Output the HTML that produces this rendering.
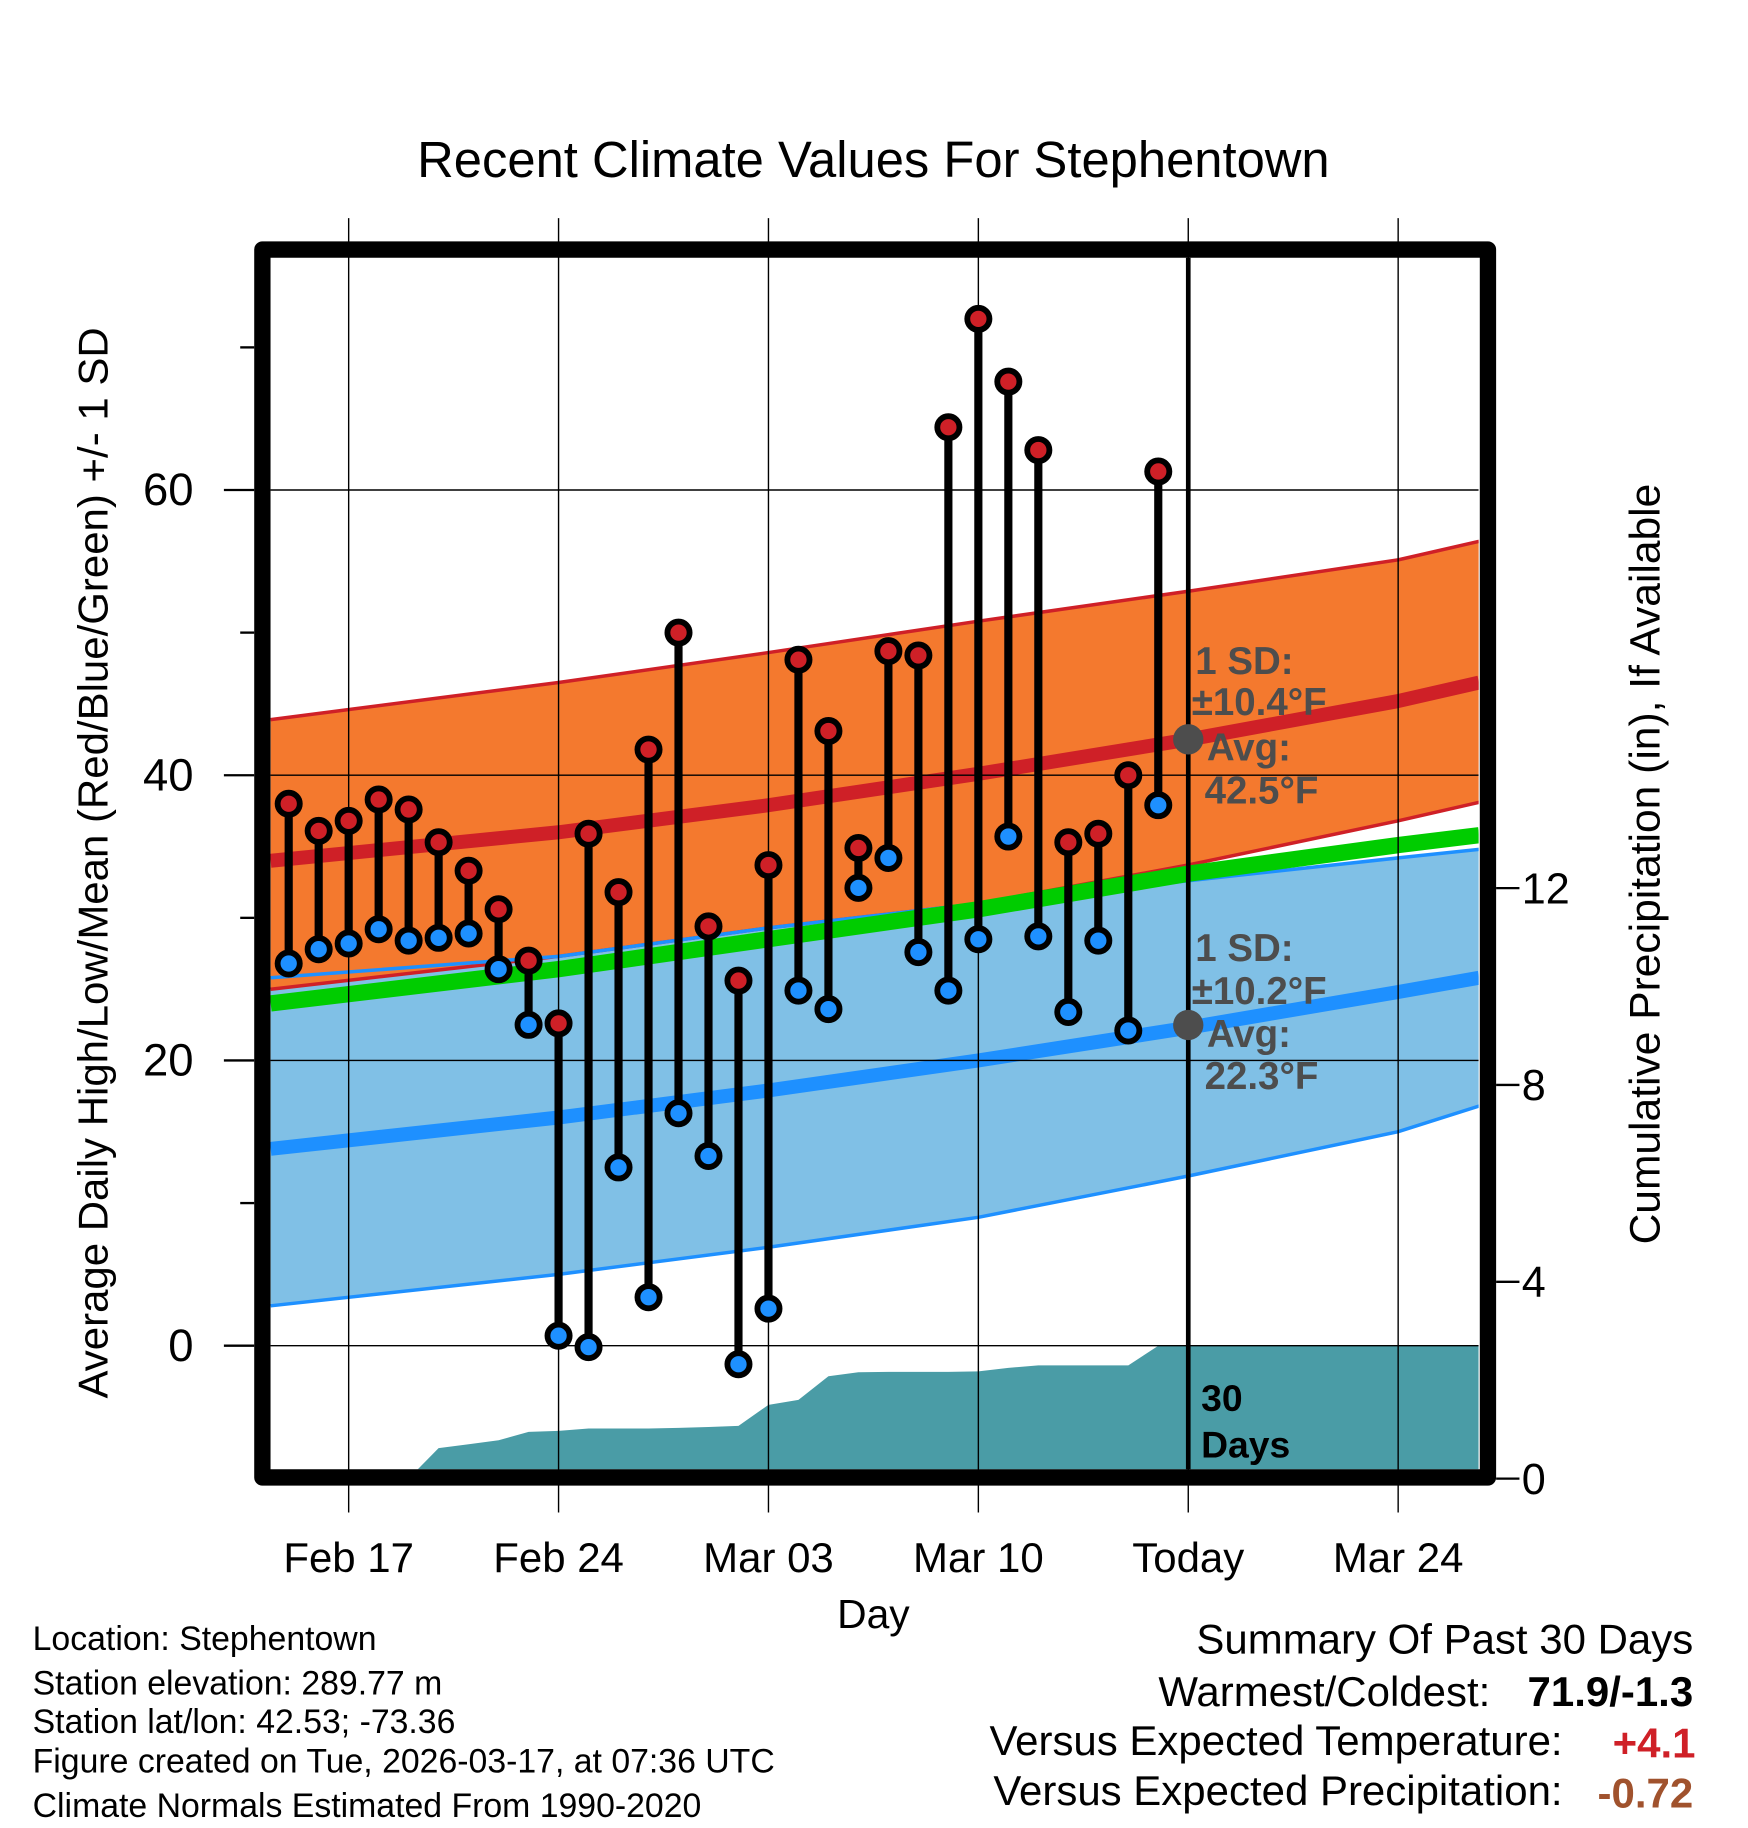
<!DOCTYPE html>
<html><head><meta charset="utf-8"><style>
html,body{margin:0;padding:0;background:#fff}
svg{display:block}
text{font-family:"Liberation Sans",Arial,sans-serif}
</style></head><body>
<svg id="chart" width="1748" height="1828" viewBox="0 0 1499 1567.6" xmlns="http://www.w3.org/2000/svg">
<g id="bg"></g>
</svg>
<script>
// ---- data ----
const highs = [38.0,36.1,36.8,38.3,37.6,35.3,33.3,30.6,27.0,22.6,35.9,31.8,41.8,50.0,29.4,25.6,33.7,48.1,43.1,34.9,48.7,48.4,64.4,72.0,67.6,62.8,35.3,35.9,40.0,61.3];
const lows  = [26.8,27.8,28.2,29.2,28.4,28.6,28.9,26.4,22.5,0.7,-0.1,12.5,3.4,16.3,13.3,-1.3,2.6,24.9,23.6,32.1,34.2,27.6,24.9,28.5,35.7,28.7,23.4,28.4,22.1,37.9];
const precipCum = [0,0,0,0,0,0.62,0.7,0.78,0.95,0.97,1.02,1.02,1.02,1.03,1.05,1.07,1.5,1.6,2.08,2.16,2.17,2.17,2.17,2.18,2.25,2.3,2.3,2.3,2.3,2.7];
const normDays = [-2.6,7,14,21,28,35,37.7]; // days relative to Feb 17
const highUpper = [43.9,46.5,48.6,50.8,52.9,55.1,56.4];
const highMean  = [34.0,36.0,37.9,40.1,42.5,45.2,46.5];
const highLower = [25.0,27.3,29.3,31.0,33.7,36.8,38.1];
const meanNorm  = [24.0,26.4,28.5,30.6,33.1,35.1,35.8];
const lowUpper  = [25.8,27.3,29.3,31.0,32.6,34.2,34.8];
const lowMean   = [13.8,16.0,17.9,20.0,22.3,24.8,25.8];
const lowLower  = [2.8,5.0,6.9,9.0,11.9,15.0,16.8];
const xTickDays = [0,7,14,21,28,35];
const xTickLabels = ["Feb 17","Feb 24","Mar 03","Mar 10","Today","Mar 24"];
const yTicks = [0,20,40,60];
const yMinor = [10,30,50,70];
const pTicks = [0,4,8,12];
const firstDay = -2; // Feb 15

// ---- axes ----
const PL=232,PR=1268,PT=221,PB=1260;
const X = d => 299 + d*25.714;
const Y = t => 1154 - t*12.23;
const YP = p => 1268 - p*42.2;
const NS="http://www.w3.org/2000/svg";
const svg=document.getElementById('chart');
function mk(tag,attrs,parent){const e=document.createElementNS(NS,tag);for(const k in attrs)e.setAttribute(k,attrs[k]);(parent||svg).appendChild(e);return e;}
function txt(s,attrs){const e=mk('text',attrs);e.textContent=s;return e;}

const defs=mk('defs',{});
const cp=mk('clipPath',{id:'pc'},defs);mk('rect',{x:PL,y:PT,width:PR-PL,height:PB-PT},cp);
const plot=mk('g',{'clip-path':'url(#pc)'});



function linePts(arr){return normDays.map((d,i)=>X(d).toFixed(1)+','+Y(arr[i]).toFixed(1));}
function band(up,lo,fill,name){
  const p=linePts(up).concat(linePts(lo).reverse());
  const e=mk('polygon',{points:p.join(' '),fill:fill},plot);
  
  
}
function line(arr,col,w,name){
  const e=mk('polyline',{points:linePts(arr).join(' '),fill:'none',stroke:col,'stroke-width':w},plot);
  
  
}
band(lowUpper,lowLower,'#80c0e6','low-sd-band');
band(highUpper,highLower,'#f4792e','high-sd-band');
line(highUpper,'#cf2027',3,'high-upper-line');
line(highLower,'#cf2027',3,'high-lower-line');
line(lowUpper,'#1e90ff',3,'low-upper-line');
line(lowLower,'#1e90ff',3,'low-lower-line');
line(meanNorm,'#00cc00',14,'mean-normal-line');
line(highMean,'#cf2027',12,'high-mean-line');
line(lowMean,'#1e90ff',12,'low-mean-line');

(function(){
  let pts=[X(firstDay-0.6)+','+YP(0)];
  precipCum.forEach((v,i)=>pts.push(X(firstDay+i).toFixed(1)+','+YP(v).toFixed(1)));
  pts.push(PR+','+YP(precipCum[precipCum.length-1]));
  pts.push(PR+','+YP(0));
  const e=mk('polygon',{points:pts.join(' '),fill:'#4a9ca6'},plot);
  
  
})();

yTicks.forEach(t=>{const e=mk('line',{x1:PL,x2:PR,y1:Y(t),y2:Y(t),stroke:'#000','stroke-width':1.2},plot);
  
  });
xTickDays.forEach(d=>{const e=mk('line',{x1:X(d),x2:X(d),y1:187,y2:1297,stroke:'#000','stroke-width':1.2});
  
  });

(function(){const e=mk('line',{x1:X(28),x2:X(28),y1:PT,y2:PB,stroke:'#000','stroke-width':4});
  
  })();

highs.forEach((h,i)=>{
  const x=X(firstDay+i);
  const s=mk('line',{x1:x,x2:x,y1:Y(h),y2:Y(lows[i]),stroke:'#000','stroke-width':7});
  
  
});
highs.forEach((h,i)=>{
  const x=X(firstDay+i);
  const a=mk('circle',{cx:x,cy:Y(h),r:9.5,fill:'#cf2027',stroke:'#000','stroke-width':5});
  
  
  const b=mk('circle',{cx:x,cy:Y(lows[i]),r:9.5,fill:'#1e90ff',stroke:'#000','stroke-width':5});
  
  
});

(function(){const e=mk('rect',{x:225,y:214,width:1051,height:1053,fill:'none',stroke:'#000','stroke-width':14,'stroke-linejoin':'round'});
  
  })();

(function(){
  const g='#4d4d4d';
  [[634,'high-avg-dot'],[879,'low-avg-dot']].forEach(a=>{const c=mk('circle',{cx:X(28),cy:a[0],r:13,fill:g});
    
    });
  const lines=[["1 SD:",1025,578],["±10.4°F",1022,613],["Avg:",1035,652],["42.5°F",1033,689],
               ["1 SD:",1025,824],["±10.2°F",1022,861],["Avg:",1035,898],["22.3°F",1033,934]];
  lines.forEach(l=>{const t=txt(l[0],{x:l[1],y:l[2],'font-size':33,'font-weight':'bold',fill:g});
    
    });
  const a=txt("30",{x:1030,y:1210,'font-size':32,'font-weight':'bold',fill:'#000'});
  
  
  const b=txt("Days",{x:1030,y:1250,'font-size':32,'font-weight':'bold',fill:'#000'});
  
  
})();

yTicks.forEach(t=>{
  const l=mk('line',{x1:192,x2:218,y1:Y(t),y2:Y(t),stroke:'#000','stroke-width':2});
  
  
  const e=txt(String(t),{x:166,y:Y(t)+13,'font-size':39,'text-anchor':'end'});
  
  
});
yMinor.forEach(t=>{const l=mk('line',{x1:206,x2:218,y1:Y(t),y2:Y(t),stroke:'#000','stroke-width':2});
  
  });
pTicks.forEach(p=>{
  const l=mk('line',{x1:1283,x2:1303,y1:YP(p),y2:YP(p),stroke:'#000','stroke-width':2});
  
  
  const e=txt(String(p),{x:1305,y:YP(p)+13,'font-size':37});
  
  
});
xTickDays.forEach((d,i)=>{const e=txt(xTickLabels[i],{x:X(d),y:1348,'font-size':36,'text-anchor':'middle'});
  
  });

function T(s,name,attrs){const e=txt(s,attrs);return e;}
T("Recent Climate Values For Stephentown",'chart-title',{x:749,y:152,'font-size':43.5,'text-anchor':'middle'});
T("Average Daily High/Low/Mean (Red/Blue/Green) +/- 1 SD",'y-axis-title',{x:0,y:0,'font-size':36,'text-anchor':'middle',transform:'translate(92,740) rotate(-90)'});
T("Cumulative Precipitation (in), If Available",'precip-axis-title',{x:0,y:0,'font-size':36.5,'text-anchor':'middle',transform:'translate(1423,741) rotate(-90)'});
T("Day",'x-axis-title',{x:749,y:1396,'font-size':35,'text-anchor':'middle'});
const info=["Location: Stephentown","Station elevation: 289.77 m","Station lat/lon: 42.53; -73.36","Figure created on Tue, 2026-03-17, at 07:36 UTC","Climate Normals Estimated From 1990-2020"];
const infoY=[1415,1453,1486,1520,1558];
info.forEach((s,i)=>T(s,'station-info',{x:28,y:infoY[i],'font-size':29}));
T("Summary Of Past 30 Days",'summary-title',{x:1452,y:1418,'font-size':36,'text-anchor':'end'});
T("Warmest/Coldest:",'summary-label',{x:1278,y:1463,'font-size':36,'text-anchor':'end'});
T("71.9/-1.3",'warmest-coldest-value',{x:1452,y:1463,'font-size':36,'font-weight':'bold','text-anchor':'end'});
T("Versus Expected Temperature:",'summary-label',{x:1340,y:1505,'font-size':36,'text-anchor':'end'});
T("+4.1",'temp-anomaly-value',{x:1454,y:1507,'font-size':36,'font-weight':'bold','text-anchor':'end',fill:'#cf2027'});
T("Versus Expected Precipitation:",'summary-label',{x:1340,y:1548,'font-size':36,'text-anchor':'end'});
T("-0.72",'precip-anomaly-value',{x:1452,y:1550,'font-size':36,'font-weight':'bold','text-anchor':'end',fill:'#a0522d'});
</script>
</body></html>
